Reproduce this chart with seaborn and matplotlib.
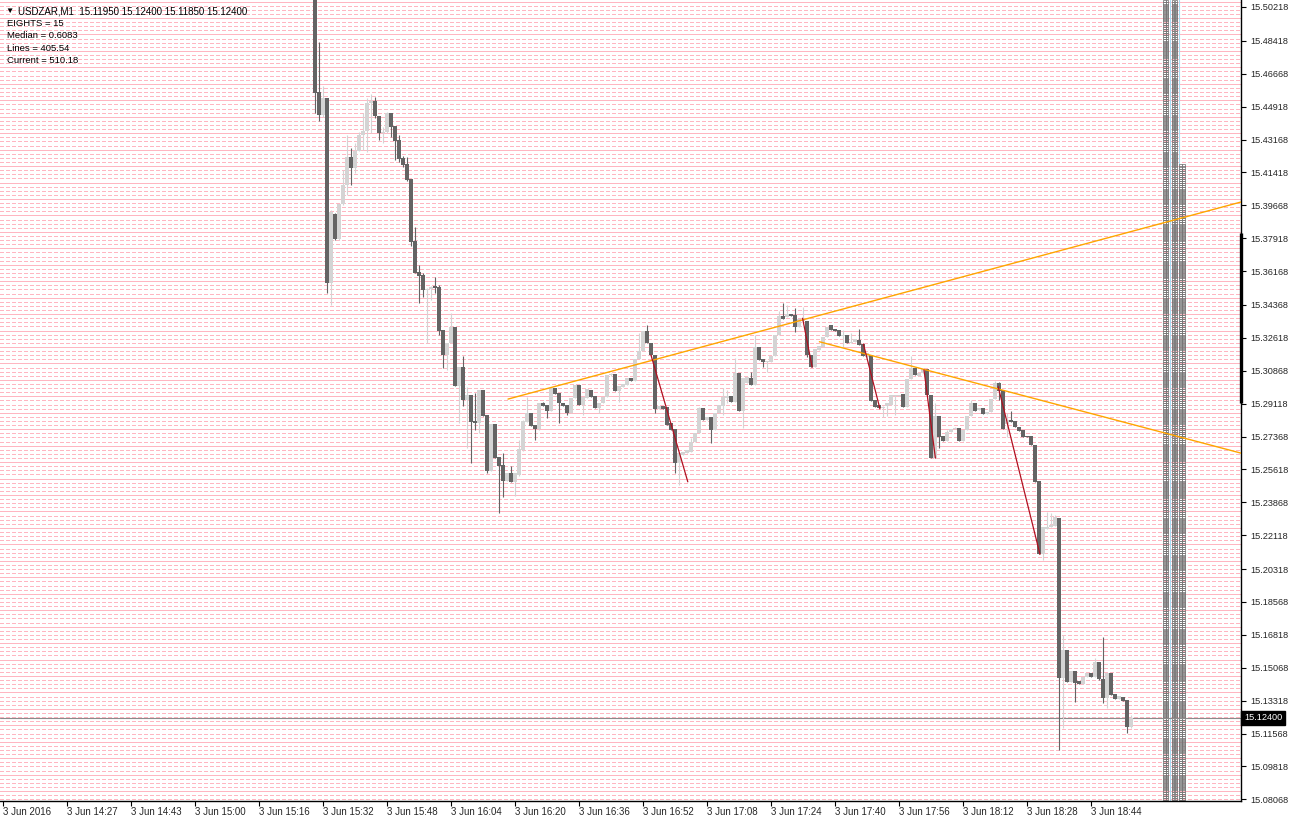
import numpy as np
import pandas as pd
import matplotlib
matplotlib.use("Agg")
import matplotlib.pyplot as plt
import seaborn as sns

# USDZAR M1, 3 Jun 2016 - chart bar 0 is 14:11, first visible candle is bar 78
first_bar = 78

opens = [
    15.5165, 15.4570, 15.4447, 15.4538, 15.3553, 15.3921, 15.3788, 15.3974, 15.4075, 15.4224,
    15.4165, 15.4256, 15.4341, 15.4362, 15.4511, 15.4522, 15.4442, 15.4351, 15.4357, 15.4458,
    15.4389, 15.4314, 15.4218, 15.4187, 15.4107, 15.3777, 15.3612, 15.3596, 15.3516, 15.3522,
    15.3537, 15.3532, 15.3303, 15.3170, 15.3234, 15.3319, 15.3005, 15.3107, 15.2931, 15.2958,
    15.2819, 15.2809, 15.2984, 15.2851, 15.2553, 15.2803, 15.2628, 15.2585, 15.2500, 15.2543,
    15.2495, 15.2532, 15.2665, 15.2814, 15.2862, 15.2798, 15.2777, 15.2915, 15.2904, 15.2872,
    15.2995, 15.2968, 15.2915, 15.2904, 15.2862, 15.2942, 15.3011, 15.2904, 15.2942, 15.2984,
    15.2952, 15.2888, 15.2915, 15.2947, 15.3064, 15.3069, 15.2979, 15.3000, 15.3011, 15.3048,
    15.3032, 15.3149, 15.3192, 15.3298, 15.3234, 15.3170, 15.2883, 15.2899, 15.2894, 15.2809,
    15.2777, 15.2596, 15.2638, 15.2649, 15.2654, 15.2708, 15.2755, 15.2888, 15.2825, 15.2841,
    15.2771, 15.2862, 15.2899, 15.2942, 15.2952, 15.2920, 15.3075, 15.2872, 15.3021, 15.3048,
    15.3011, 15.3213, 15.3149, 15.3133, 15.3133, 15.3165, 15.3277, 15.3378, 15.3373, 15.3389,
    15.3383, 15.3319, 15.3351, 15.3351, 15.3170, 15.3107, 15.3197, 15.3213, 15.3266, 15.3330,
    15.3309, 15.3303, 15.3271, 15.3277, 15.3234, 15.3240, 15.3250, 15.3229, 15.3160, 15.3170,
    15.2931, 15.2904, 15.2888, 15.2899, 15.2904, 15.2952, 15.2952, 15.2963, 15.2894, 15.3043,
    15.3101, 15.3059, 15.3075, 15.3096, 15.2958, 15.2622, 15.2846, 15.2739, 15.2713, 15.2761,
    15.2777, 15.2782, 15.2713, 15.2771, 15.2846, 15.2915, 15.2878, 15.2888, 15.2857, 15.2867,
    15.2936, 15.3021, 15.2984, 15.2803, 15.2825, 15.2819, 15.2787, 15.2771, 15.2739, 15.2739,
    15.2692, 15.2500, 15.2112, 15.2245, 15.2255, 15.2261, 15.2303, 15.1452, 15.1601, 15.1431,
    15.1489, 15.1436, 15.1420, 15.1457, 15.1479, 15.1457, 15.1537, 15.1447, 15.1346, 15.1479,
    15.1367, 15.1340, 15.1351, 15.1335, 15.1191,
]
highs = [
    15.5219, 15.4836, 15.4601, 15.4538, 15.3942, 15.3926, 15.3974, 15.4155, 15.4341, 15.4272,
    15.4298, 15.4357, 15.4458, 15.4538, 15.4559, 15.4543, 15.4442, 15.4383, 15.4463, 15.4458,
    15.4389, 15.4341, 15.4229, 15.4224, 15.4107, 15.3851, 15.3649, 15.3607, 15.3527, 15.3537,
    15.3585, 15.3543, 15.3303, 15.3234, 15.3394, 15.3319, 15.3107, 15.3165, 15.3000, 15.2958,
    15.2968, 15.2984, 15.2984, 15.2851, 15.2803, 15.2803, 15.2628, 15.2649, 15.2543, 15.2580,
    15.2543, 15.2718, 15.2825, 15.2947, 15.2862, 15.2798, 15.2915, 15.2920, 15.2904, 15.2995,
    15.2995, 15.2968, 15.2915, 15.2904, 15.2942, 15.3011, 15.3011, 15.2947, 15.2990, 15.2984,
    15.2952, 15.2915, 15.2947, 15.3064, 15.3075, 15.3069, 15.3005, 15.3016, 15.3048, 15.3048,
    15.3149, 15.3287, 15.3298, 15.3330, 15.3234, 15.3170, 15.2899, 15.2899, 15.2894, 15.2809,
    15.2777, 15.2649, 15.2654, 15.2665, 15.2729, 15.2755, 15.2894, 15.2888, 15.2841, 15.2841,
    15.2862, 15.2904, 15.2995, 15.2984, 15.2952, 15.3154, 15.3075, 15.3048, 15.3053, 15.3080,
    15.3277, 15.3213, 15.3149, 15.3138, 15.3165, 15.3277, 15.3404, 15.3447, 15.3436, 15.3389,
    15.3420, 15.3362, 15.3426, 15.3351, 15.3170, 15.3202, 15.3218, 15.3266, 15.3319, 15.3330,
    15.3309, 15.3303, 15.3303, 15.3277, 15.3287, 15.3256, 15.3309, 15.3229, 15.3181, 15.3170,
    15.2931, 15.2904, 15.2899, 15.2915, 15.2958, 15.2958, 15.2958, 15.2963, 15.3043, 15.3165,
    15.3101, 15.3075, 15.3096, 15.3096, 15.2958, 15.2915, 15.2846, 15.2739, 15.2771, 15.2777,
    15.2787, 15.2782, 15.2771, 15.2846, 15.2931, 15.2915, 15.2888, 15.2888, 15.2867, 15.2936,
    15.3032, 15.3027, 15.2984, 15.2862, 15.2872, 15.2819, 15.2787, 15.2771, 15.2739, 15.2739,
    15.2692, 15.2500, 15.2255, 15.2335, 15.2330, 15.2319, 15.2303, 15.1681, 15.1601, 15.1489,
    15.1489, 15.1436, 15.1457, 15.1479, 15.1479, 15.1558, 15.1537, 15.1670, 15.1479, 15.1479,
    15.1367, 15.1356, 15.1351, 15.1335, 15.1255,
]
lows = [
    15.4458, 15.4415, 15.4437, 15.3500, 15.3436, 15.3782, 15.3782, 15.3968, 15.4022, 15.4075,
    15.4139, 15.4256, 15.4261, 15.4250, 15.4351, 15.4431, 15.4314, 15.4298, 15.4351, 15.4330,
    15.4208, 15.4197, 15.4171, 15.4096, 15.3750, 15.3607, 15.3447, 15.3479, 15.3234, 15.3463,
    15.3500, 15.3277, 15.3101, 15.3091, 15.3234, 15.3005, 15.2809, 15.2899, 15.2676, 15.2596,
    15.2771, 15.2755, 15.2846, 15.2543, 15.2553, 15.2622, 15.2330, 15.2415, 15.2500, 15.2495,
    15.2420, 15.2527, 15.2660, 15.2814, 15.2793, 15.2718, 15.2771, 15.2899, 15.2835, 15.2872,
    15.2963, 15.2809, 15.2899, 15.2851, 15.2862, 15.2942, 15.2904, 15.2851, 15.2942, 15.2947,
    15.2888, 15.2862, 15.2915, 15.2947, 15.3059, 15.2979, 15.2920, 15.3000, 15.3011, 15.3032,
    15.3032, 15.3149, 15.3192, 15.3234, 15.3170, 15.2862, 15.2883, 15.2883, 15.2798, 15.2771,
    15.2543, 15.2479, 15.2638, 15.2649, 15.2654, 15.2708, 15.2755, 15.2825, 15.2825, 15.2702,
    15.2771, 15.2862, 15.2851, 15.2915, 15.2920, 15.2920, 15.2872, 15.2782, 15.3021, 15.3011,
    15.3011, 15.3144, 15.3107, 15.3080, 15.3133, 15.3165, 15.3277, 15.3362, 15.3373, 15.3378,
    15.3293, 15.3319, 15.3351, 15.3160, 15.3107, 15.3107, 15.3197, 15.3213, 15.3266, 15.3303,
    15.3298, 15.3271, 15.3213, 15.3234, 15.3234, 15.3240, 15.3224, 15.3165, 15.3160, 15.2926,
    15.2894, 15.2888, 15.2841, 15.2846, 15.2904, 15.2851, 15.2952, 15.2894, 15.2894, 15.3043,
    15.3064, 15.3059, 15.3075, 15.2958, 15.2622, 15.2622, 15.2676, 15.2713, 15.2713, 15.2761,
    15.2777, 15.2713, 15.2713, 15.2771, 15.2846, 15.2872, 15.2878, 15.2857, 15.2857, 15.2867,
    15.2936, 15.2931, 15.2777, 15.2734, 15.2814, 15.2787, 15.2766, 15.2734, 15.2734, 15.2692,
    15.2495, 15.2112, 15.2080, 15.2245, 15.2255, 15.2261, 15.1069, 15.1186, 15.1431, 15.1431,
    15.1324, 15.1420, 15.1420, 15.1457, 15.1457, 15.1457, 15.1441, 15.1319, 15.1292, 15.1362,
    15.1340, 15.1340, 15.1330, 15.1159, 15.1186,
]
closes = [
    15.4564, 15.4447, 15.4538, 15.3553, 15.3931, 15.3788, 15.3974, 15.4075, 15.4224, 15.4165,
    15.4256, 15.4341, 15.4362, 15.4511, 15.4522, 15.4442, 15.4351, 15.4357, 15.4458, 15.4383,
    15.4309, 15.4213, 15.4181, 15.4101, 15.3772, 15.3607, 15.3591, 15.3516, 15.3522, 15.3532,
    15.3527, 15.3298, 15.3170, 15.3234, 15.3319, 15.3005, 15.3107, 15.2931, 15.2958, 15.2814,
    15.2809, 15.2984, 15.2846, 15.2553, 15.2803, 15.2622, 15.2580, 15.2500, 15.2543, 15.2495,
    15.2543, 15.2670, 15.2819, 15.2862, 15.2793, 15.2777, 15.2915, 15.2899, 15.2872, 15.2995,
    15.2963, 15.2915, 15.2899, 15.2862, 15.2942, 15.3011, 15.2904, 15.2947, 15.2990, 15.2947,
    15.2888, 15.2915, 15.2947, 15.3064, 15.3069, 15.2979, 15.3005, 15.3016, 15.3048, 15.3032,
    15.3149, 15.3192, 15.3298, 15.3234, 15.3170, 15.2883, 15.2899, 15.2883, 15.2798, 15.2771,
    15.2596, 15.2649, 15.2654, 15.2665, 15.2708, 15.2755, 15.2888, 15.2825, 15.2841, 15.2771,
    15.2862, 15.2904, 15.2947, 15.2952, 15.2920, 15.3075, 15.2872, 15.3048, 15.3053, 15.3011,
    15.3213, 15.3144, 15.3133, 15.3138, 15.3165, 15.3277, 15.3378, 15.3362, 15.3389, 15.3378,
    15.3319, 15.3362, 15.3357, 15.3170, 15.3107, 15.3202, 15.3218, 15.3266, 15.3319, 15.3303,
    15.3298, 15.3271, 15.3277, 15.3234, 15.3240, 15.3256, 15.3224, 15.3165, 15.3181, 15.2926,
    15.2894, 15.2888, 15.2894, 15.2915, 15.2958, 15.2958, 15.2958, 15.2894, 15.3043, 15.3101,
    15.3064, 15.3075, 15.3096, 15.2958, 15.2622, 15.2846, 15.2734, 15.2713, 15.2761, 15.2777,
    15.2782, 15.2713, 15.2771, 15.2846, 15.2915, 15.2872, 15.2888, 15.2857, 15.2867, 15.2936,
    15.3021, 15.2979, 15.2777, 15.2825, 15.2814, 15.2787, 15.2766, 15.2734, 15.2734, 15.2692,
    15.2495, 15.2112, 15.2255, 15.2255, 15.2266, 15.2309, 15.1452, 15.1601, 15.1431, 15.1489,
    15.1425, 15.1420, 15.1457, 15.1479, 15.1457, 15.1537, 15.1447, 15.1346, 15.1479, 15.1362,
    15.1340, 15.1356, 15.1330, 15.1191, 15.1240,
]

time_labels = ["3 Jun 2016", "3 Jun 14:27", "3 Jun 14:43", "3 Jun 15:00", "3 Jun 15:16",
               "3 Jun 15:32", "3 Jun 15:48", "3 Jun 16:04", "3 Jun 16:20", "3 Jun 16:36",
               "3 Jun 16:52", "3 Jun 17:08", "3 Jun 17:24", "3 Jun 17:40", "3 Jun 17:56",
               "3 Jun 18:12", "3 Jun 18:28", "3 Jun 18:44"]
price_ticks = [15.50218, 15.48418, 15.46668, 15.44918, 15.43168, 15.41418, 15.39668,
               15.37918, 15.36168, 15.34368, 15.32618, 15.30868, 15.29118, 15.27368,
               15.25618, 15.23868, 15.22118, 15.20318, 15.18568, 15.16818, 15.15068,
               15.13318, 15.11568, 15.09818, 15.08068]
current_price = 15.12400
header = "USDZAR,M1  15.11950 15.12400 15.11850 15.12400"
info_lines = ["EIGHTS = 15", "Median = 0.6083", "Lines = 405.54", "Current = 510.18"]

# trend lines as (bar, price) pairs
orange_lines = [[(126.25, 15.2936), (309.6, 15.3985)],
                [(204.1, 15.3241), (309.6, 15.2648)]]
red_lines = [[(162.0, 15.3170), (171.2, 15.2496)],
             [(199.9, 15.3366), (202.3, 15.3105)],
             [(215.1, 15.3229), (219.25, 15.2883)],
             [(230.25, 15.3091), (233.1, 15.2622)],
             [(248.8, 15.3002), (259.25, 15.2110)]]
range_marker = (15.2915, 15.3819)

# eights levels (step = 1/8 of 0.0175)
level_step = 0.0175 / 8
band_top_c = 15.4180

sns.set_theme(style="white")
plt.rcParams['font.family'] = ['Liberation Sans', 'DejaVu Sans']

df = pd.DataFrame({"bar": np.arange(len(opens)) + first_bar,
                   "open": opens, "high": highs, "low": lows, "close": closes})
df["bull"] = df["close"] > df["open"]
df["color"] = np.where(df["bull"], "#d4d4d4", "#646464")

W, H = 1290, 823
fig = plt.figure(figsize=(W / 100, H / 100), dpi=100)
fig.patch.set_facecolor("white")
ax = fig.add_axes([0, 22 / H, 1241 / W, 801 / H])
ax.set_facecolor("white")
ax.set_xlim(-0.75, 309.5)
ax.set_ylim(15.0798, 15.5059)
ax.grid(False)

# pink level lines, one pixel high
px_lw = 72 / 100
levels = np.arange(15.08068 - 2 * level_step, 15.51, level_step)
for i, lv in enumerate(levels):
    if i % 4 == 0:
        ax.axhline(lv, color="#ffb6c1", lw=px_lw, zorder=0.5, antialiased=False)
    else:
        ax.axhline(lv, color="#ffb6c1", lw=px_lw, ls=(0, (4, 2.6)), zorder=0.5,
                   antialiased=False)

# right-hand label band of the indicator
band_rows = []
for lv in np.arange(15.0798, 15.5059, level_step / 2):
    for px in (1164.5, 1167.0, 1173.0, 1176.0):
        band_rows.append(((px - 3) / 4, lv))
    if lv < band_top_c:
        for px in (1180.5, 1183.5):
            band_rows.append(((px - 3) / 4, lv))
band = pd.DataFrame(band_rows, columns=["bar", "price"])
for px in (1170.0, 1178.5):
    ax.axvline((px - 3) / 4, color="#a8d8f0", lw=0.8, zorder=1)
sns.scatterplot(data=band, x="bar", y="price", marker="s", s=3.3, color="none",
                edgecolor="#777777", linewidth=0.55, ax=ax, zorder=2, legend=False)

# candles
ax.vlines(df["bar"], df["low"], df["high"], colors=df["color"], lw=0.8, zorder=3)
body_lo = df[["open", "close"]].min(axis=1)
body_h = (df["open"] - df["close"]).abs().clip(lower=0.00055)
ax.bar(df["bar"], body_h, bottom=body_lo, width=0.78, color=df["color"],
       linewidth=0, zorder=4)

# trend lines
for seg in orange_lines:
    seg_df = pd.DataFrame(seg, columns=["bar", "price"])
    sns.lineplot(data=seg_df, x="bar", y="price", color="#ffa500", lw=1.0, ax=ax,
                 zorder=5, estimator=None, sort=False)
for seg in red_lines:
    seg_df = pd.DataFrame(seg, columns=["bar", "price"])
    sns.lineplot(data=seg_df, x="bar", y="price", color="#b01020", lw=0.9, ax=ax,
                 zorder=5, estimator=None, sort=False)

# current price line
ax.axhline(current_price, color="#8c8c8c", lw=0.8, zorder=2)

# axes styling
for side in ("top", "left"):
    ax.spines[side].set_visible(False)
for side in ("right", "bottom"):
    ax.spines[side].set_color("black")
    ax.spines[side].set_linewidth(1.0)
ax.plot([309.6, 309.6], range_marker, color="black", lw=2.4, clip_on=False,
        zorder=6, solid_capstyle="butt")

ax.yaxis.tick_right()
ax.set_yticks(price_ticks)
ax.set_yticklabels([f"{p:.5f}" for p in price_ticks])
ax.tick_params(axis="y", direction="out", length=3.5, width=0.8, color="black",
               labelsize=6.6, pad=3, right=True, left=False)
for lbl in ax.get_yticklabels():
    lbl.set_horizontalalignment("left")

ax.set_xticks(np.arange(len(time_labels)) * 16)
ax.set_xticklabels(time_labels)
ax.tick_params(axis="x", direction="out", length=3.5, width=0.8, color="black",
               labelsize=7, pad=1, bottom=True)
for lbl in ax.get_xticklabels():
    lbl.set_horizontalalignment("left")
ax.set_xlabel("")
ax.set_ylabel("")

# current price box on the axis
ax.annotate(f"{current_price:.5f}", xy=(1.0, current_price),
            xycoords=("axes fraction", "data"), xytext=(2.2, 0),
            textcoords="offset points", ha="left", va="center", fontsize=6.6,
            color="white", bbox=dict(boxstyle="square,pad=0.3", fc="black", ec="black"),
            annotation_clip=False, zorder=7)

# header texts
fig.text(5 / W, 1 - 11 / H, "\u25bc", fontsize=6, va="center", ha="left", color="black")
fig.text(18 / W, 1 - 11 / H, header, fontsize=7, va="center", ha="left", color="black")
for i, line in enumerate(info_lines):
    fig.text(7 / W, 1 - (23.5 + 12.3 * i) / H, line, fontsize=6.8, va="center",
             ha="left", color="black")

fig.savefig("out.png", dpi=100, facecolor="white")
